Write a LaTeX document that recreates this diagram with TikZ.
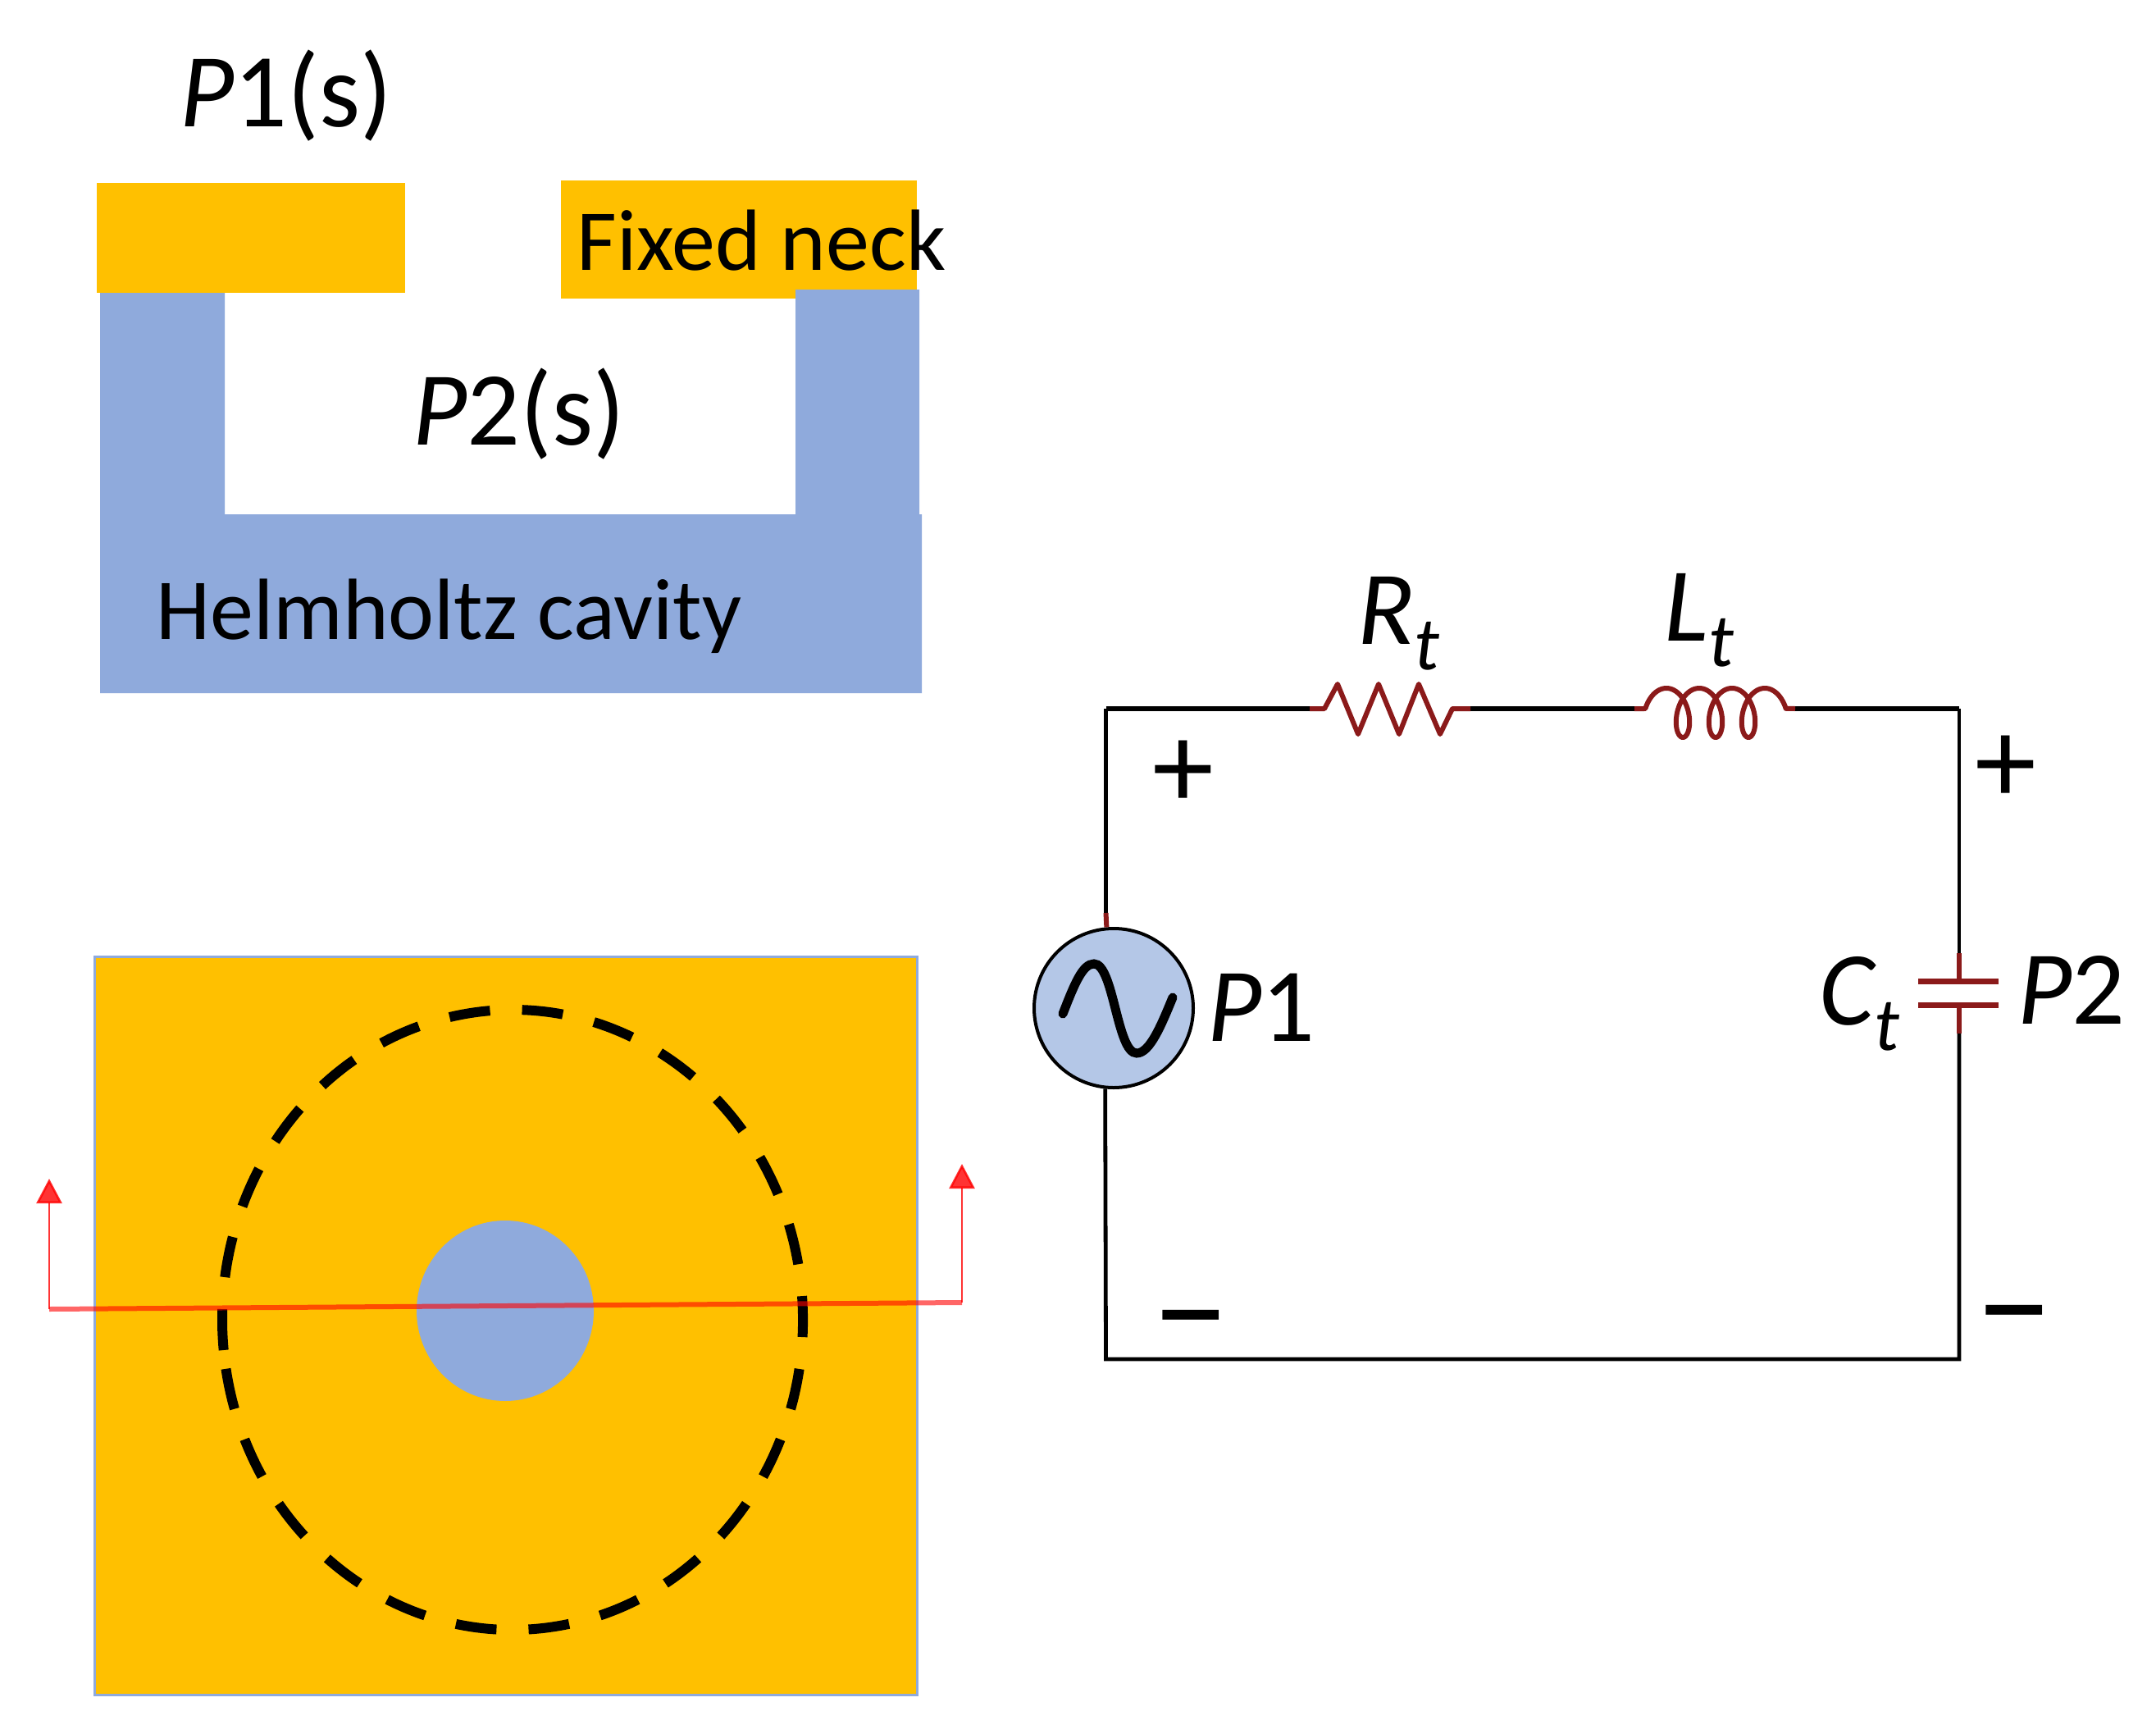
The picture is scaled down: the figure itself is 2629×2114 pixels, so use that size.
\documentclass[tikz,border=0pt]{standalone}
\usepackage{fontspec}
\setmainfont{Carlito}
\usetikzlibrary{arrows.meta}
\definecolor{neckc}{HTML}{FFC000}
\definecolor{cavc}{HTML}{8FAADC}
\definecolor{srcc}{HTML}{B4C7E7}
\definecolor{compc}{HTML}{8B1A1A}
\newcommand{\tsub}{\raisebox{-15.5pt}{\fontsize{46pt}{46pt}\selectfont\itshape t}}
\tikzset{
  big/.style={anchor=base west,inner sep=0pt,font=\fontsize{64pt}{64pt}\selectfont},
  txt/.style={anchor=base west,inner sep=0pt,font=\fontsize{53pt}{53pt}\selectfont},
  plus/.style={anchor=center,inner sep=0pt,font=\fontsize{75pt}{75pt}\selectfont},
  minus/.style={anchor=center,inner sep=0pt,font=\fontsize{92pt}{92pt}\selectfont},
  wire/.style={line width=2.4pt,black},
  topwire/.style={line width=3pt,black},
  comp/.style={line width=3pt,compc,line join=round},
  section/.style={line width=3pt,red,opacity=.6},
  secarrow/.style={line width=1.3pt,red,opacity=.8,-{Triangle[length=15pt,width=15.5pt]}}
}
\begin{document}
\begin{tikzpicture}[x=0.5pt,y=-0.5pt]
  \useasboundingbox (0,0) rectangle (2629,2114);
  \fill[white] (0,0) rectangle (2629,2114);

  % cross section
  \fill[neckc] (118,223) rectangle (494,357);
  \fill[neckc] (684,220) rectangle (1118,364);
  \fill[cavc] (122,357) -- (274,357) -- (274,627) -- (970,627) -- (970,353) -- (1121,353)
    -- (1121,627) -- (1124,627) -- (1124,845) -- (122,845) -- cycle;
  \node[big] (p1s) at (219,155) {{\itshape P}1(s)};
  \node[big] (p2s) at (503,542) {{\itshape P}2(s)};
  \node[txt] (neck) at (703,329) {Fixed neck};
  \node[txt] (cav) at (190,779) {Helmholtz cavity};

  % top view
  \draw[fill=neckc,draw=cavc,line width=1.5pt] (115,1166) rectangle (1118,2066);
  \fill[cavc] (616,1598) ellipse [x radius=108,y radius=110];
  \draw[line width=6pt,dash pattern=on 25pt off 19.55pt] (275.5,1668.8) arc [start angle=170.9,end angle=-189.1,x radius=354,y radius=378];
  \coordinate (sl) at (60,1596);
  \coordinate (sr) at (1173,1588);
  \coordinate (al) at (60,1437);
  \coordinate (ar) at (1173,1419);
  \draw[section] (sl) -- (sr);
  \draw[secarrow] (sl) -- (al);
  \draw[secarrow] (sr) -- (ar);

  % circuit
  \coordinate (tl) at (1348.5,864);
  \coordinate (tr) at (2389,864);
  \coordinate (bl) at (1348.5,1657);
  \coordinate (br) at (2389,1657);
  \coordinate (ra) at (1597,864);
  \coordinate (rb) at (1793,864);
  \coordinate (la) at (1993,864);
  \coordinate (lb) at (2189,864);
  \coordinate (ca) at (2389,1162);
  \coordinate (cb) at (2389,1260);
  \coordinate (st) at (1348.5,1113);
  \node[circle,minimum size=97pt,inner sep=0pt,fill=srcc,draw=black,line width=2pt] (src) at (1358,1229) {};
  \draw[line width=5.5pt,line cap=round] (1296,1236) .. controls (1310,1200) and (1320,1175) .. (1334,1175)
    .. controls (1358,1175) and (1362,1284) .. (1386,1284) .. controls (1402,1284) and (1416,1250) .. (1430,1216);

  \draw[wire] (st) -- (tl);
  \draw[topwire] (tl) -- (ra);
  \draw[topwire] (rb) -- (la);
  \draw[topwire] (lb) -- (tr);
  \draw[wire] (tr) -- (ca);
  \draw[wire] (cb) -- (br) -- (bl) -- (src.264.4);

  \draw[comp] (st) -- (src.95.6);
  \draw[comp] (ra) -- (1615,864) -- (1631,834) -- (1656,895) -- (1681,834) -- (1706,895)
    -- (1730,834) -- (1756,895) -- (1771,864) -- (rb);
  \draw[comp] (la) -- (2005,864) -- plot[domain=10:1250,samples=240,smooth] ({2022+\x/9-17*cos(\x)},{869-30*sin(\x)}) -- (lb);
  \draw[comp] (ca) -- (2389,1196.5);
  \draw[comp] (cb) -- (2389,1225.5);
  \draw[comp,line width=3.4pt] (2339,1196.5) -- (2437,1196.5);
  \draw[comp,line width=3.4pt] (2339,1225.5) -- (2437,1225.5);

  \node[big] (rt) at (1655,785) {{\itshape R}\tsub};
  \node[big] (lt) at (2029,781) {{\itshape L}\tsub};
  \node[big] (ct) at (2218,1249) {{\itshape C}\tsub};
  \node[big] (p1) at (1472,1269) {{\itshape P}1};
  \node[big] (p2) at (2460,1248) {{\itshape P}2};
  \node[plus] (pl) at (1443,944) {+};
  \node[plus] (pr) at (2446,938) {+};
  \node[minus] (ml) at (1452,1629) {−};
  \node[minus] (mr) at (2456,1623) {−};
\end{tikzpicture}
\end{document}
